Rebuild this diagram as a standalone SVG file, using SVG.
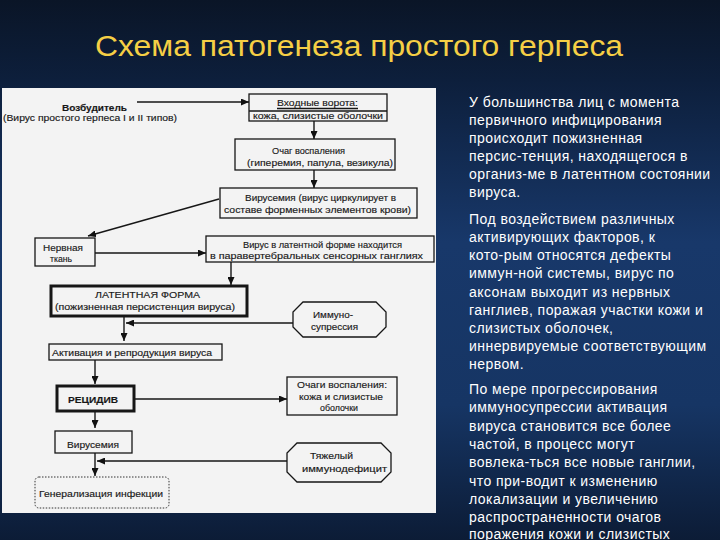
<svg xmlns="http://www.w3.org/2000/svg" width="720" height="540" viewBox="0 0 720 540">
<defs>
<linearGradient id="bg" x1="0" y1="0" x2="0" y2="1">
<stop offset="0" stop-color="#0a1527"/>
<stop offset="0.15" stop-color="#0d1f3c"/>
<stop offset="0.45" stop-color="#18386a"/>
<stop offset="0.75" stop-color="#163564"/>
<stop offset="1" stop-color="#0c1c36"/>
</linearGradient>
<marker id="ah" markerUnits="userSpaceOnUse" markerWidth="8" markerHeight="7" refX="8" refY="3.5" orient="auto">
<path d="M0,0 L8,3.5 L0,7 z" fill="#111"/>
</marker>
<style>
.t{font-family:"Liberation Sans",Arial,sans-serif;font-size:9.5px;fill:#161616;stroke:#222;stroke-width:0.15}
.b{font-weight:bold}
.box{fill:none;stroke:#161616;stroke-width:1.3}
.thick{fill:none;stroke:#161616;stroke-width:3}
.c{fill:none;stroke:#161616;stroke-width:1.4;marker-end:url(#ah)}
.ln{fill:none;stroke:#161616;stroke-width:1.4}
.r{font-family:"Liberation Sans",Arial,sans-serif;font-size:14px;fill:#ffffff;letter-spacing:0.45px}
</style>
</defs>
<rect x="0" y="0" width="720" height="540" fill="url(#bg)"/>
<text x="95" y="56" font-family="'Liberation Sans',Arial,sans-serif" font-size="30" fill="#f5cf45" textLength="528" lengthAdjust="spacingAndGlyphs">Схема патогенеза простого герпеса</text>
<rect x="2" y="88" width="434" height="425" fill="#f3f3f3"/>

<g id="connectors">
<path class="c" d="M137,102 H249"/>
<path class="c" d="M314,121 V139"/>
<path class="c" d="M314,170 V188"/>
<path class="c" d="M219,199 L88,236"/>
<path class="c" d="M95,253 H206"/>
<path class="c" d="M231,262 V285"/>
<path class="c" d="M124,316 V341"/>
<path class="c" d="M293,323 H126"/>
<path class="c" d="M95,360 V384"/>
<path class="c" d="M134,399 H287"/>
<path class="c" d="M95,411 V428"/>
<path class="c" d="M95,453 V476"/>
<path class="c" d="M287,461 H97"/>
</g>

<g id="n-vozbuditel">
<text class="t b" x="62" y="111" font-size="10" textLength="65" lengthAdjust="spacingAndGlyphs">Возбудитель</text>
<text class="t" x="3" y="121" textLength="174" lengthAdjust="spacingAndGlyphs">(Вирус простого герпеса I и II типов)</text>
</g>

<g id="n-vhodnye">
<rect class="box" x="249" y="94" width="138" height="27"/>
<line class="ln" x1="249" y1="111" x2="387" y2="111" stroke-width="1"/>
<line class="ln" x1="277" y1="108.5" x2="358" y2="108.5" stroke-width="0.8"/>
<text class="t" x="277" y="106" textLength="81" lengthAdjust="spacingAndGlyphs">Входные ворота:</text>
<text class="t" x="253" y="119" textLength="130" lengthAdjust="spacingAndGlyphs">кожа, слизистые оболочки</text>
</g>

<g id="n-ochag">
<rect class="box" x="235" y="139" width="160" height="31"/>
<text class="t" x="272" y="154" textLength="73" lengthAdjust="spacingAndGlyphs">Очаг воспаления</text>
<text class="t" x="247" y="166" textLength="146" lengthAdjust="spacingAndGlyphs">(гиперемия, папула, везикула)</text>
</g>

<g id="n-virusemia1">
<rect class="box" x="220" y="188" width="197" height="30"/>
<text class="t" x="245" y="201" textLength="151" lengthAdjust="spacingAndGlyphs">Вирусемия (вирус циркулирует в</text>
<text class="t" x="224" y="213" textLength="187" lengthAdjust="spacingAndGlyphs">составе форменных элементов крови)</text>
</g>

<g id="n-nervnaya">
<rect class="box" x="35" y="238" width="60" height="28"/>
<text class="t" x="43" y="251" textLength="40" lengthAdjust="spacingAndGlyphs">Нервная</text>
<text class="t" x="50" y="262" textLength="22" lengthAdjust="spacingAndGlyphs">ткань</text>
</g>

<g id="n-latent-gangl">
<rect class="box" x="206" y="236" width="228" height="26"/>
<text class="t" x="243" y="248" textLength="159" lengthAdjust="spacingAndGlyphs">Вирус в латентной форме находится</text>
<text class="t" x="210" y="259" textLength="213" lengthAdjust="spacingAndGlyphs">в паравертебральных сенсорных ганглиях</text>
</g>

<g id="n-latent-forma">
<rect class="thick" x="51" y="286" width="196" height="30"/>
<text class="t" x="95" y="298" textLength="105" lengthAdjust="spacingAndGlyphs">ЛАТЕНТНАЯ ФОРМА</text>
<text class="t" x="55" y="310" textLength="180" lengthAdjust="spacingAndGlyphs">(пожизненная персистенция вируса)</text>
</g>

<g id="n-immuno">
<polygon class="box" points="303,302 376,302 386,312 386,327 376,337 303,337 293,327 293,312"/>
<text class="t" x="313" y="318" textLength="40" lengthAdjust="spacingAndGlyphs">Иммуно-</text>
<text class="t" x="311" y="330" textLength="47" lengthAdjust="spacingAndGlyphs">супрессия</text>
</g>

<g id="n-aktivaciya">
<rect class="box" x="49" y="344" width="173" height="16"/>
<text class="t" x="52" y="356" textLength="160" lengthAdjust="spacingAndGlyphs">Активация и репродукция вируса</text>
</g>

<g id="n-recidiv">
<rect class="thick" x="57" y="386" width="77" height="25"/>
<text class="t b" x="68" y="403" textLength="50" lengthAdjust="spacingAndGlyphs">РЕЦИДИВ</text>
</g>

<g id="n-ochagi">
<rect class="box" x="287" y="377" width="110" height="38"/>
<text class="t" x="297" y="388" textLength="90" lengthAdjust="spacingAndGlyphs">Очаги воспаления:</text>
<text class="t" x="299" y="400" textLength="84" lengthAdjust="spacingAndGlyphs">кожа и слизистые</text>
<text class="t" x="320" y="411" textLength="38" lengthAdjust="spacingAndGlyphs">оболочки</text>
</g>

<g id="n-virusemia2">
<rect class="box" x="55" y="431" width="77" height="22"/>
<text class="t" x="67" y="448" textLength="52" lengthAdjust="spacingAndGlyphs">Вирусемия</text>
</g>

<g id="n-immunodef">
<polygon class="box" points="297,443 381,443 391,453 391,472 381,482 297,482 287,472 287,453"/>
<text class="t" x="310" y="459" textLength="43" lengthAdjust="spacingAndGlyphs">Тяжелый</text>
<text class="t" x="302" y="472" textLength="85" lengthAdjust="spacingAndGlyphs">иммунодефицит</text>
</g>

<g id="n-generalizaciya">
<rect x="35" y="477" width="134" height="31" rx="4" fill="none" stroke="#333" stroke-width="1" stroke-dasharray="1.5,1.5"/>
<text class="t" x="39" y="497" textLength="124" lengthAdjust="spacingAndGlyphs">Генерализация инфекции</text>
</g>

<g id="side-text">
<text class="r" x="469" y="107">У большинства лиц с момента</text>
<text class="r" x="469" y="125">первичного инфицирования</text>
<text class="r" x="469" y="143">происходит пожизненная</text>
<text class="r" x="469" y="161">персис-тенция, находящегося в</text>
<text class="r" x="469" y="179">организ-ме в латентном состоянии</text>
<text class="r" x="469" y="197">вируса.</text>
<text class="r" x="469" y="224">Под воздействием различных</text>
<text class="r" x="469" y="242">активирующих факторов, к</text>
<text class="r" x="469" y="260">кото-рым относятся дефекты</text>
<text class="r" x="469" y="278">иммун-ной системы, вирус по</text>
<text class="r" x="469" y="297">аксонам выходит из нервных</text>
<text class="r" x="469" y="315">ганглиев, поражая участки кожи и</text>
<text class="r" x="469" y="333">слизистых оболочек,</text>
<text class="r" x="469" y="351">иннервируемые соответствующим</text>
<text class="r" x="469" y="369">нервом.</text>
<text class="r" x="469" y="394">По мере прогрессирования</text>
<text class="r" x="469" y="412">иммуносупрессии активация</text>
<text class="r" x="469" y="431">вируса становится все более</text>
<text class="r" x="469" y="449">частой, в процесс могут</text>
<text class="r" x="469" y="467">вовлека-ться все новые ганглии,</text>
<text class="r" x="469" y="486">что при-водит к изменению</text>
<text class="r" x="469" y="504">локализации и увеличению</text>
<text class="r" x="469" y="522">распространенности очагов</text>
<text class="r" x="469" y="539">поражения кожи и слизистых</text>
</g>
</svg>
